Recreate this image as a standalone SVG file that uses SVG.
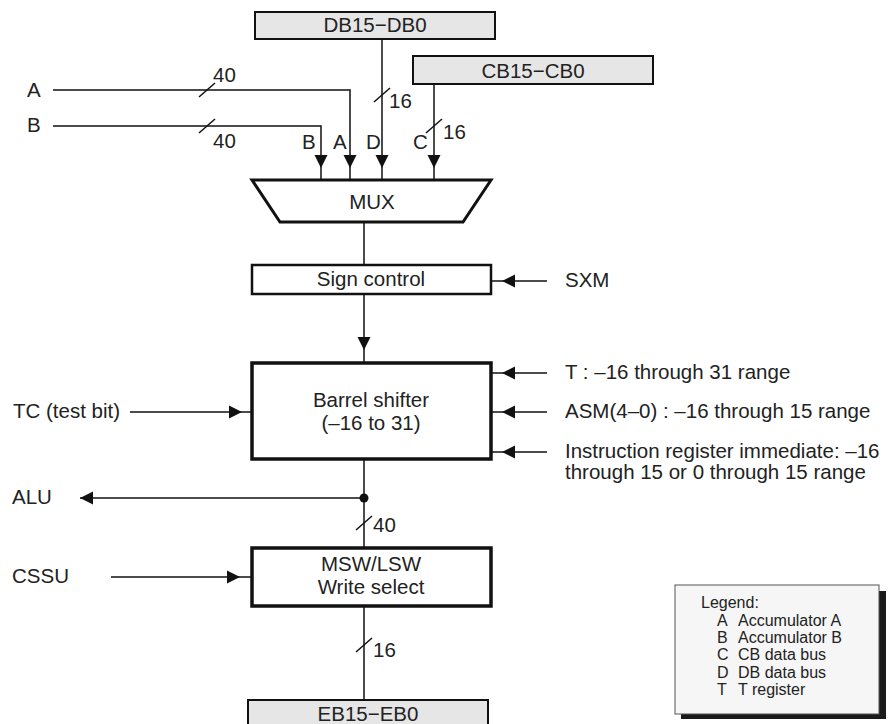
<svg xmlns="http://www.w3.org/2000/svg" xmlns:xlink="http://www.w3.org/1999/xlink" width="890" height="724" viewBox="0 0 890 724">
<style>
text{font-family:"Liberation Sans",Arial,sans-serif;font-size:20.5px;fill:#222}
.c{text-anchor:middle}
.w{stroke:#111;stroke-width:1.5;fill:none}
.bus{fill:#e6e6e6;stroke:#111;stroke-width:2}
.blk{fill:#fff;stroke:#111}
.lg{font-size:16px}
</style>
<defs>
<path id="ah" d="M-6.5,-13 L6.5,-13 L0,0 Z" fill="#111"/>
</defs>
<rect width="890" height="724" fill="#fff"/>

<g id="db"><rect class="bus" x="255" y="12" width="240" height="27"/><text class="c" x="375" y="32">DB15−DB0</text></g>
<g id="cb"><rect class="bus" x="413" y="56" width="240" height="28"/><text class="c" x="533" y="78">CB15−CB0</text></g>
<g id="inA"><text x="27" y="97">A</text></g>
<g id="inB"><text x="27" y="132">B</text></g>
<g id="mux"><path class="blk" stroke-width="3" d="M252,180 L491,180 L463,222 L280,222 Z"/><text class="c" x="372" y="209">MUX</text></g>
<g id="sign"><rect class="blk" stroke-width="2.5" x="252" y="265" width="239" height="29"/><text class="c" x="371" y="286">Sign control</text></g>
<g id="sxm"><text x="565" y="287">SXM</text></g>
<g id="barrel"><rect class="blk" stroke-width="3.5" x="252" y="363" width="239" height="96"/><text class="c" x="371" y="407">Barrel shifter</text><text class="c" x="371" y="430">(–16 to 31)</text></g>
<g id="tsrc"><text x="565" y="379">T : –16 through 31 range</text></g>
<g id="asm"><text x="565" y="418">ASM(4–0) : –16 through 15 range</text></g>
<g id="ir"><text x="565" y="458">Instruction register immediate: –16</text><text x="565" y="479">through 15 or 0 through 15 range</text></g>
<g id="tc"><text x="13" y="418">TC (test bit)</text></g>
<g id="alu"><text x="12" y="504">ALU</text></g>
<g id="cssu"><text x="12" y="583">CSSU</text></g>
<g id="msw"><rect class="blk" stroke-width="3.5" x="252" y="548" width="239" height="58"/><text class="c" x="371" y="571">MSW/LSW</text><text class="c" x="371" y="594">Write select</text></g>
<g id="eb"><rect class="bus" x="248" y="700" width="240" height="30"/><text class="c" x="368" y="721">EB15−EB0</text></g>
<g id="legend">
<rect x="681" y="591" width="205" height="128" fill="#1a1a1a"/>
<rect x="675" y="585" width="204" height="129" fill="#f6f6f6" stroke="#555" stroke-width="1"/>
<text class="lg" x="701" y="608">Legend:</text>
<text class="lg" x="717" y="626">A</text><text class="lg" x="738" y="626">Accumulator A</text>
<text class="lg" x="717" y="643">B</text><text class="lg" x="738" y="643">Accumulator B</text>
<text class="lg" x="717" y="660">C</text><text class="lg" x="738" y="660">CB data bus</text>
<text class="lg" x="717" y="678">D</text><text class="lg" x="738" y="678">DB data bus</text>
<text class="lg" x="717" y="695">T</text><text class="lg" x="738" y="695">T register</text>
</g>

<g id="connectors">
<path class="w" d="M53,90 H350 V180"/>
<path class="w" d="M53,126 H321 V180"/>
<path class="w" d="M382,39 V180"/>
<path class="w" d="M434,84 V180"/>
<path class="w" d="M364,222 V265"/>
<path class="w" d="M364,294 V363"/>
<path class="w" d="M491,281 H547"/>
<path class="w" d="M491,373 H547"/>
<path class="w" d="M491,412 H547"/>
<path class="w" d="M491,452 H547"/>
<path class="w" d="M130,412 H252"/>
<path class="w" d="M364,459 V548"/>
<path class="w" d="M364,498 H80"/>
<path class="w" d="M111,577 H252"/>
<path class="w" d="M364,606 V700"/>
<circle cx="364" cy="498" r="4.5" fill="#111"/>
<path class="w" d="M199,97 L215,83"/>
<path class="w" d="M199,133 L215,119"/>
<path class="w" d="M374,102 L390,88"/>
<path class="w" d="M426,133 L442,119"/>
<path class="w" d="M356,530 L372,516"/>
<path class="w" d="M356,652 L372,638"/>
<text x="213" y="82">40</text>
<text x="213" y="148">40</text>
<text x="389" y="108">16</text>
<text x="443" y="139">16</text>
<text x="373" y="532">40</text>
<text x="373" y="657">16</text>
<text x="302" y="149">B</text>
<text x="333" y="149">A</text>
<text x="366" y="149">D</text>
<text x="413" y="149">C</text>
<use xlink:href="#ah" transform="translate(321,168)"/>
<use xlink:href="#ah" transform="translate(350,168)"/>
<use xlink:href="#ah" transform="translate(382,168)"/>
<use xlink:href="#ah" transform="translate(434,168)"/>
<use xlink:href="#ah" transform="translate(364,350)"/>
<use xlink:href="#ah" transform="translate(502,281) rotate(90)"/>
<use xlink:href="#ah" transform="translate(502,373) rotate(90)"/>
<use xlink:href="#ah" transform="translate(502,412) rotate(90)"/>
<use xlink:href="#ah" transform="translate(502,452) rotate(90)"/>
<use xlink:href="#ah" transform="translate(242,412) rotate(-90)"/>
<use xlink:href="#ah" transform="translate(240,577) rotate(-90)"/>
<use xlink:href="#ah" transform="translate(80,498) rotate(90)"/>
</g>
</svg>
